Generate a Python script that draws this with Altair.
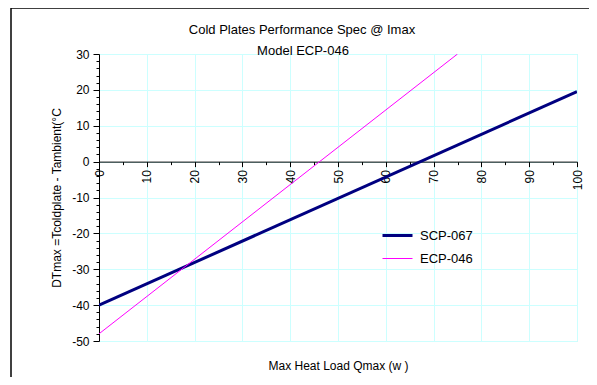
import altair as alt
import pandas as pd

series_names = ["SCP-067", "ECP-046"]
scp_q = [0, 100]
scp_dt = [-40, 19.5]
ecp_q = [0, 75]
ecp_dt = [-48, 30]
x_values = list(range(0, 101, 5))
y_values = list(range(-50, 31, 2))
title_lines = ["Cold Plates Performance Spec @ Imax", "Model ECP-046"]

df = pd.DataFrame({
    "series": [series_names[0]] * len(scp_q) + [series_names[1]] * len(ecp_q),
    "q": scp_q + ecp_q,
    "dt": scp_dt + ecp_dt,
})
one = pd.DataFrame({"k": [0]})

W, H = 478, 287
FONT = "Liberation Sans"
zero_px = H * 30 / 80

major = "datum.value % 10 === 0"
label_expr = f"{major} ? '' + datum.value : ''"

x_axis = alt.Axis(
    values=x_values,
    labelExpr=label_expr,
    labelAngle=270,
    labelOverlap=False,
    labelFont=FONT, labelFontSize=12, labelColor="black", labelPadding=3,
    offset=-(H - zero_px),
    domainColor="black", tickColor="black",
    tickSize={"condition": {"test": major, "value": 5}, "value": 3},
    grid=True,
    gridColor="#ccffff",
    gridOpacity={"condition": {"test": major, "value": 1}, "value": 0},
    title="Max Heat Load Qmax (w )",
    titleFont=FONT, titleFontSize=12, titleFontWeight="normal", titleColor="black",
    titleY=365 - 54 - zero_px, titleBaseline="middle",
)

y_axis = alt.Axis(
    values=y_values,
    labelExpr=label_expr,
    labelOverlap=False,
    labelFont=FONT, labelFontSize=12, labelColor="black", labelPadding=4,
    domainColor="black", tickColor="black",
    tickSize={"condition": {"test": major, "value": 6}, "value": 3},
    grid=True,
    gridColor="#ccffff",
    gridOpacity={"condition": {"test": major, "value": 1}, "value": 0},
    title="DTmax =Tcoldplate - Tambient(°C",
    titleFont=FONT, titleFontSize=12, titleFontWeight="normal", titleColor="black",
    titlePadding=8,
)

legend_opts = dict(
    title=None, orient="none", legendX=282, legendY=165,
    symbolType="stroke", symbolSize=900,
    labelFont=FONT, labelFontSize=13, labelColor="black",
    rowPadding=-7, padding=0, labelOffset=6,
)

lines = alt.Chart(df).mark_line(clip=True).encode(
    x=alt.X("q:Q", scale=alt.Scale(domain=[0, 100], nice=False, zero=False), axis=x_axis),
    y=alt.Y("dt:Q", scale=alt.Scale(domain=[-50, 30], nice=False, zero=False), axis=y_axis),
    color=alt.Color(
        "series:N",
        scale=alt.Scale(domain=series_names, range=["#000080", "#ff00ff"]),
        legend=alt.Legend(**legend_opts),
    ),
    strokeWidth=alt.StrokeWidth(
        "series:N",
        scale=alt.Scale(domain=series_names, range=[3, 1]),
        legend=alt.Legend(**legend_opts),
    ),
    detail="series:N",
)

frame_top = alt.Chart(one).mark_rule(color="black", strokeWidth=1.5).encode(
    x=alt.value(-88), x2=alt.value(W + 40), y=alt.value(-46)
)
frame_left = alt.Chart(one).mark_rule(color="black", strokeWidth=1.5).encode(
    x=alt.value(-88), y=alt.value(-46), y2=alt.value(H + 60)
)

title1 = alt.Chart(one).mark_text(
    text=title_lines[0], font=FONT, fontSize=13, fontWeight="normal", color="black",
    align="center", baseline="middle"
).encode(x=alt.value(203), y=alt.value(-24))
title2 = alt.Chart(one).mark_text(
    text=title_lines[1], font=FONT, fontSize=13, fontWeight="normal", color="black",
    align="center", baseline="middle"
).encode(x=alt.value(204), y=alt.value(-3))

chart = alt.layer(lines, frame_top, frame_left, title1, title2).properties(
    width=W, height=H,
    autosize=alt.AutoSizeParams(type="none"),
    padding={"left": 91, "top": 46, "right": 12, "bottom": 36},
).configure_view(stroke=None).configure(background="white")

chart.save("out.html", embed_options={"renderer": "svg", "actions": False})
